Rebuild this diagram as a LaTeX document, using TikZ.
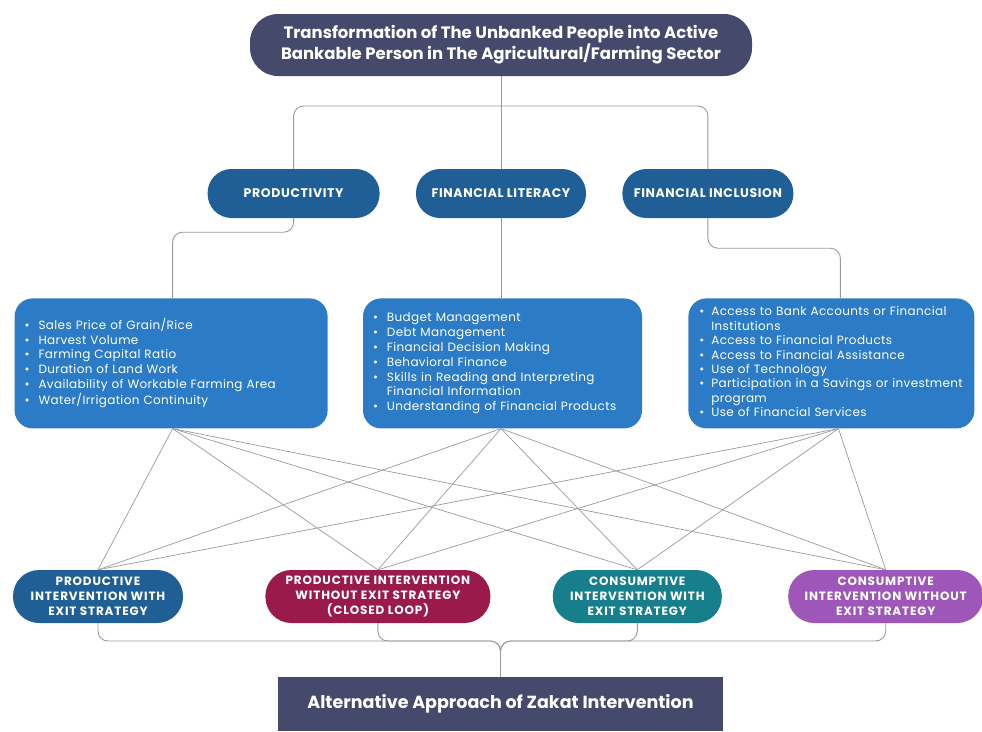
\documentclass[tikz,border=0pt]{standalone}
\usepackage{fontspec}
\setmainfont{Poppins}
\usetikzlibrary{positioning,calc}
\definecolor{headFill}{HTML}{45496B}
\definecolor{pillFill}{HTML}{1F5F96}
\definecolor{boxFill}{HTML}{2C7BC6}
\definecolor{redFill}{HTML}{9A1A4B}
\definecolor{tealFill}{HTML}{177E8C}
\definecolor{purpFill}{HTML}{9E57B8}
\definecolor{linkDraw}{HTML}{9A9A9A}
\tikzset{
  head/.style  ={fill=headFill, text=white, align=center, inner sep=0pt},
  pill/.style  ={fill=pillFill, text=white, rounded corners=24pt, minimum height=49pt, inner sep=0pt,
                 font=\bfseries\fontsize{12.5}{15}\selectfont\addfontfeature{LetterSpace=5}},
  detail/.style={fill=boxFill, text=white, rounded corners=18pt, minimum height=130pt, inner sep=10pt,
                 align=left, font=\fontsize{12}{14.8}\selectfont\addfontfeature{LetterSpace=3}},
  choice/.style={text=white, rounded corners=26pt, minimum height=53pt, align=center, inner sep=0pt,
                 font=\bfseries\fontsize{12}{15}\selectfont\addfontfeature{LetterSpace=7}},
  link/.style  ={draw=linkDraw, line width=0.9pt, rounded corners=10pt},
  cross/.style ={draw=linkDraw, line width=0.7pt},
}
\newcommand{\bl}{\textbullet}

\begin{document}
\begin{tikzpicture}[x=1pt, y=-1pt]
  \useasboundingbox (0,0) rectangle (982,731);

  \node[head, minimum width=502pt, minimum height=62pt, rounded corners=28pt,
        font=\bfseries\fontsize{16.5}{21}\selectfont] (top) at (501,45)
        {Transformation of The Unbanked People into Active\\Bankable Person in The Agricultural/Farming Sector};

  \node[pill, minimum width=170pt] (lit) at (501,193.5) {FINANCIAL LITERACY};
  \node[pill, minimum width=172pt, left=36pt of lit]  (prod) {PRODUCTIVITY};
  \node[pill, minimum width=171pt, right=36pt of lit] (incl) {FINANCIAL INCLUSION};

  \node[detail, minimum width=279pt, text width=259pt, below=80pt of lit, xshift=1.5pt] (bLit)
    {\begin{tabular}{@{}l@{\hspace{9pt}}l@{}}
      \bl & Budget Management\\
      \bl & Debt Management\\
      \bl & Financial Decision Making\\
      \bl & Behavioral Finance\\
      \bl & Skills in Reading and Interpreting\\
          & Financial Information\\
      \bl & Understanding of Financial Products
     \end{tabular}};
  \node[detail, minimum width=313pt, text width=293pt, left=35pt of bLit] (bProd)
    {\begin{tabular}{@{}l@{\hspace{9pt}}l@{}}
      \bl & Sales Price of Grain/Rice\\
      \bl & Harvest Volume\\
      \bl & Farming Capital Ratio\\
      \bl & Duration of Land Work\\
      \bl & Availability of Workable Farming Area\\
      \bl & Water/Irrigation Continuity
     \end{tabular}};
  \node[detail, minimum width=284pt, text width=264pt, inner xsep=11pt, inner ysep=5pt,
        font=\fontsize{12}{14.4}\selectfont\addfontfeature{LetterSpace=3}, right=46pt of bLit] (bIncl)
    {\begin{tabular}{@{}l@{\hspace{7pt}}l@{}}
      \bl & Access to Bank Accounts or Financial\\
          & Institutions\\
      \bl & Access to Financial Products\\
      \bl & Access to Financial Assistance\\
      \bl & Use of Technology\\
      \bl & Participation in a Savings or investment\\
          & program\\
      \bl & Use of Financial Services
     \end{tabular}};

  \node[choice, fill=pillFill, minimum width=170pt] (pA) at (98,596.5)
        {PRODUCTIVE\\INTERVENTION WITH\\EXIT STRATEGY};
  \node[choice, fill=redFill, minimum width=225pt, right=82pt of pA] (pB)
        {PRODUCTIVE INTERVENTION\\WITHOUT EXIT STRATEGY\\(CLOSED LOOP)};
  \node[choice, fill=tealFill, minimum width=169pt, right=62pt of pB] (pC)
        {CONSUMPTIVE\\INTERVENTION WITH\\EXIT STRATEGY};
  \node[choice, fill=purpFill, minimum width=195pt, right=66pt of pC] (pD)
        {CONSUMPTIVE\\INTERVENTION WITHOUT\\EXIT STRATEGY};

  \node[head, minimum width=445pt, minimum height=54pt, font=\bfseries\fontsize{17.5}{20}\selectfont]
        (zak) at (500.5,704) {\raisebox{-3pt}{Alternative Approach of Zakat Intervention}};

  % upper tree
  \coordinate (hub)  at (501,106);
  \coordinate (join) at (500.5,641);
  \draw[link] (top.south) -- (hub);
  \draw[link] (hub) -| (prod.north);
  \draw[link] (hub) -| (incl.north);
  \draw[link] (hub) -- (lit.north);
  \draw[link] (prod.south) -- ++(0,14) -| ([xshift=1.5pt]bProd.north);
  \draw[link] (lit.south) -- (lit.south |- bLit.north);
  \draw[link] (incl.south) -- ++(0,30) -| ([xshift=9pt]bIncl.north);

  % every group to every intervention
  \foreach \src/\dx in {bProd/1.5, bLit/-1.5, bIncl/7}
    \foreach \dst in {pA, pB, pC, pD}
      \draw[cross] ([xshift=\dx pt]\src.south) -- (\dst.north);

  % lower tree
  \foreach \dst in {pA, pB, pC, pD}
    \draw[link] (\dst.south) |- (join) -- (zak.north);
\end{tikzpicture}
\end{document}
